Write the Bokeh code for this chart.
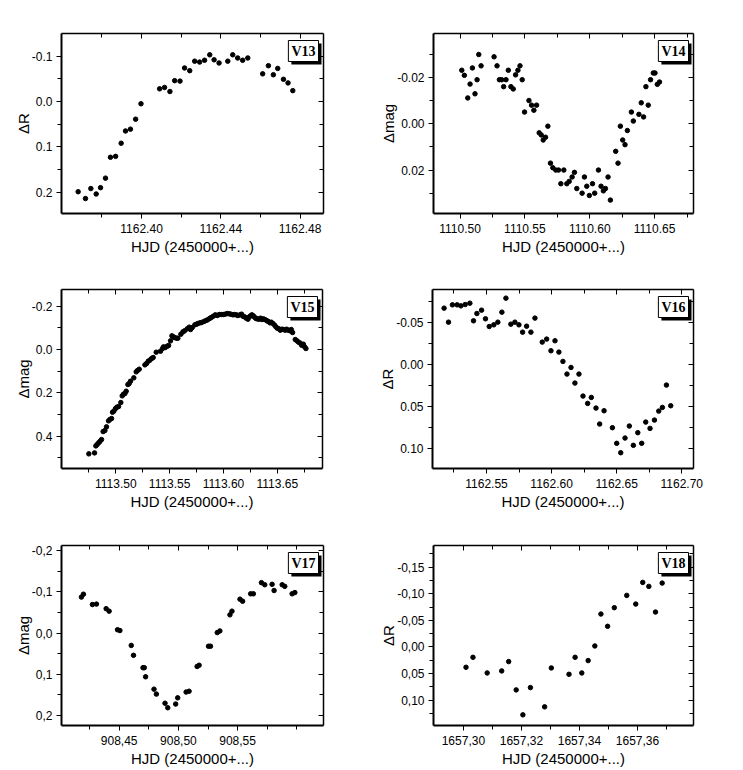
from bokeh.plotting import figure
from bokeh.layouts import column, row
from bokeh.models import Range1d, FixedTicker, CustomJSTickFormatter, LinearAxis, Label
from bokeh.embed import file_html
from bokeh.resources import INLINE

X_TITLE = "HJD (2450000+...)"

# ---------------- V13 ----------------
v13_hjd = [1162.3680, 1162.3717, 1162.3744, 1162.3771, 1162.3793, 1162.3818, 1162.3843, 1162.3869,
           1162.3897, 1162.3919, 1162.3944, 1162.3970, 1162.3997, 1162.4091, 1162.4116, 1162.4143,
           1162.4167, 1162.4194, 1162.4217, 1162.4243, 1162.4268, 1162.4293, 1162.4318, 1162.4344,
           1162.4366, 1162.4391, 1162.4435, 1162.4460, 1162.4485, 1162.4510, 1162.4536, 1162.4611,
           1162.4640, 1162.4665, 1162.4687, 1162.4716, 1162.4739, 1162.4763]
v13_dR = [0.199, 0.214, 0.192, 0.204, 0.190, 0.169, 0.123, 0.121, 0.092, 0.065, 0.061, 0.039, 0.005,
          -0.028, -0.031, -0.022, -0.046, -0.045, -0.074, -0.068, -0.089, -0.087, -0.091, -0.103,
          -0.092, -0.085, -0.089, -0.103, -0.096, -0.091, -0.096, -0.061, -0.079, -0.059, -0.073,
          -0.049, -0.041, -0.024]
v13_xmajor = [1162.40, 1162.44, 1162.48]
v13_xminor = [1162.38, 1162.42, 1162.46]
v13_ymajor = [-0.1, 0.0, 0.1, 0.2]
v13_yminor = [-0.05, 0.05, 0.15]

# ---------------- V14 ----------------
v14_hjd = [1110.5013, 1110.5033, 1110.5059, 1110.5077, 1110.5095, 1110.5115, 1110.5131, 1110.5144,
           1110.5162, 1110.5262, 1110.5285, 1110.5303, 1110.5321, 1110.5336, 1110.5354, 1110.5372,
           1110.5392, 1110.5410, 1110.5428, 1110.5446, 1110.5462, 1110.5479, 1110.5497, 1110.5531,
           1110.5551, 1110.5569, 1110.5590, 1110.5610, 1110.5626, 1110.5641, 1110.5659, 1110.5677,
           1110.5697, 1110.5715, 1110.5738, 1110.5759, 1110.5777, 1110.5800, 1110.5823, 1110.5841,
           1110.5864, 1110.5882, 1110.5900, 1110.5941, 1110.5959, 1110.5977, 1110.5997, 1110.6021,
           1110.6038, 1110.6067, 1110.6087, 1110.6105, 1110.6121, 1110.6141, 1110.6159, 1110.6200,
           1110.6218, 1110.6236, 1110.6254, 1110.6272, 1110.6290, 1110.6321, 1110.6336, 1110.6379,
           1110.6397, 1110.6415, 1110.6433, 1110.6451, 1110.6469, 1110.6490, 1110.6503, 1110.6521,
           1110.6538]
v14_dmag = [-0.0232, -0.0210, -0.0112, -0.0172, -0.0242, -0.0130, -0.0191, -0.0300, -0.0251, -0.0290,
            -0.0251, -0.0191, -0.0191, -0.0161, -0.0191, -0.0232, -0.0161, -0.0151, -0.0212, -0.0232,
            -0.0251, -0.0191, -0.0051, -0.0101, -0.0081, -0.0059, -0.0081, 0.0039, 0.0048, 0.0070,
            0.0058, 0.0010, 0.0170, 0.0190, 0.0200, 0.0200, 0.0259, 0.0200, 0.0259, 0.0249,
            0.0230, 0.0210, 0.0280, 0.0300, 0.0230, 0.0270, 0.0310, 0.0259, 0.0300, 0.0200,
            0.0270, 0.0290, 0.0280, 0.0230, 0.0330, 0.0119, 0.0170, 0.0010, 0.0070, 0.0090,
            0.0029, -0.0051, -0.0012, -0.0041, -0.0091, -0.0030, -0.0161, -0.0081, -0.0191, -0.0220,
            -0.0220, -0.0171, -0.0181]
v14_xmajor = [1110.50, 1110.55, 1110.60, 1110.65]
v14_xminor = [1110.525, 1110.575, 1110.625, 1110.675]
v14_ymajor = [-0.02, 0.00, 0.02]
v14_yminor = [-0.03, -0.01, 0.01, 0.03]

# ---------------- V15 ----------------
v15_hjd = [1113.4749, 1113.4802, 1113.4814, 1113.4826, 1113.4839, 1113.4851, 1113.4867, 1113.4882,
           1113.4898, 1113.4913, 1113.4932, 1113.4944, 1113.4960, 1113.4969, 1113.4981, 1113.4997,
           1113.5009, 1113.5025, 1113.5046, 1113.5059, 1113.5071, 1113.5084, 1113.5096, 1113.5112,
           1113.5124, 1113.5136, 1113.5167, 1113.5189, 1113.5201, 1113.5217, 1113.5270, 1113.5285,
           1113.5301, 1113.5316, 1113.5332, 1113.5347, 1113.5375, 1113.5415, 1113.5434, 1113.5443,
           1113.5459, 1113.5477, 1113.5490, 1113.5508, 1113.5521, 1113.5533, 1113.5545, 1113.5564,
           1113.5576, 1113.5604, 1113.5623, 1113.5638, 1113.5663, 1113.5682, 1113.5694, 1113.5710,
           1113.5734, 1113.5750, 1113.5762, 1113.5781, 1113.5796, 1113.5818, 1113.5837, 1113.5852,
           1113.5871, 1113.5886, 1113.5905, 1113.5924, 1113.5942, 1113.5961, 1113.5979, 1113.5998,
           1113.6016, 1113.6035, 1113.6054, 1113.6069, 1113.6088, 1113.6103, 1113.6119, 1113.6134,
           1113.6153, 1113.6168, 1113.6181, 1113.6196, 1113.6212, 1113.6227, 1113.6240, 1113.6252,
           1113.6264, 1113.6277, 1113.6289, 1113.6302, 1113.6314, 1113.6329, 1113.6345, 1113.6357,
           1113.6370, 1113.6385, 1113.6401, 1113.6416, 1113.6432, 1113.6444, 1113.6460, 1113.6475,
           1113.6487, 1113.6500, 1113.6515, 1113.6528, 1113.6543, 1113.6559, 1113.6574, 1113.6587,
           1113.6602, 1113.6618, 1113.6630, 1113.6642, 1113.6667, 1113.6683, 1113.6698, 1113.6714,
           1113.6726, 1113.6742, 1113.6754, 1113.6766]
v15_dmag = [0.4815, 0.4769, 0.4446, 0.4385, 0.4308, 0.4246, 0.4154, 0.3785,
            0.3738, 0.3569, 0.3292, 0.3231, 0.3185, 0.2892, 0.2846, 0.2723,
            0.2662, 0.2631, 0.2446, 0.2138, 0.2062, 0.2031, 0.1923, 0.1615,
            0.1569, 0.1462, 0.1308, 0.1031, 0.0969, 0.0908, 0.0708, 0.0646,
            0.0538, 0.0492, 0.0415, 0.0369, 0.0123, 0.0077, -0.0046, -0.0123,
            -0.0092, -0.0154, -0.0185, -0.0400, -0.0631, -0.0585, -0.0554, -0.0523,
            -0.0523, -0.0708, -0.0815, -0.0862, -0.0954, -0.1031, -0.0923, -0.1015,
            -0.1138, -0.1169, -0.1200, -0.1231, -0.1246, -0.1292, -0.1338, -0.1369,
            -0.1431, -0.1477, -0.1538, -0.1600, -0.1569, -0.1615, -0.1615, -0.1615,
            -0.1631, -0.1662, -0.1646, -0.1631, -0.1600, -0.1615, -0.1600, -0.1569,
            -0.1600, -0.1631, -0.1538, -0.1508, -0.1446, -0.1400, -0.1508, -0.1554,
            -0.1600, -0.1554, -0.1492, -0.1431, -0.1415, -0.1400, -0.1446, -0.1385,
            -0.1415, -0.1385, -0.1338, -0.1292, -0.1231, -0.1262, -0.1200, -0.1123,
            -0.1046, -0.0985, -0.0954, -0.0892, -0.0938, -0.0923, -0.0892, -0.0938,
            -0.0892, -0.0862, -0.0923, -0.0785, -0.0462, -0.0400, -0.0338, -0.0292,
            -0.0200, -0.0246, -0.0123, -0.0046]
v15_xmajor = [1113.50, 1113.55, 1113.60, 1113.65]
v15_xminor = [1113.475, 1113.525, 1113.575, 1113.625, 1113.675]
v15_ymajor = [-0.2, 0.0, 0.2, 0.4]
v15_yminor = [-0.1, 0.1, 0.3, 0.5]

# ---------------- V16 ----------------
v16_hjd = [1162.5174, 1162.5208, 1162.5238, 1162.5274, 1162.5303, 1162.5336, 1162.5372, 1162.5400,
           1162.5426, 1162.5462, 1162.5492, 1162.5521, 1162.5556, 1162.5587, 1162.5618, 1162.5649,
           1162.5687, 1162.5718, 1162.5749, 1162.5777, 1162.5808, 1162.5841, 1162.5872, 1162.5928,
           1162.5962, 1162.5995, 1162.6026, 1162.6056, 1162.6087, 1162.6118, 1162.6149, 1162.6179,
           1162.6210, 1162.6241, 1162.6277, 1162.6305, 1162.6341, 1162.6369, 1162.6403, 1162.6467,
           1162.6500, 1162.6531, 1162.6564, 1162.6597, 1162.6628, 1162.6662, 1162.6692, 1162.6723,
           1162.6756, 1162.6790, 1162.6823, 1162.6851, 1162.6882, 1162.6915]
v16_dR = [-0.0671, -0.0504, -0.0710, -0.0710, -0.0698, -0.0714, -0.0730, -0.0520, -0.0607, -0.0647,
          -0.0544, -0.0452, -0.0472, -0.0504, -0.0623, -0.0790, -0.0480, -0.0504, -0.0472, -0.0385,
          -0.0456, -0.0385, -0.0552, -0.0266, -0.0302, -0.0163, -0.0282, -0.0147, -0.0036, 0.0115,
          0.0036, 0.0222, 0.0115, 0.0377, 0.0464, 0.0393, 0.0520, 0.0710, 0.0552, 0.0754,
          0.0940, 0.1052, 0.0877, 0.0734, 0.0964, 0.0813, 0.0940, 0.0687, 0.0762, 0.0663,
          0.0556, 0.0512, 0.0246, 0.0492]
v16_xmajor = [1162.55, 1162.60, 1162.65, 1162.70]
v16_xminor = [1162.525, 1162.575, 1162.625, 1162.675]
v16_ymajor = [-0.05, 0.00, 0.05, 0.10]
v16_yminor = [-0.075, -0.025, 0.025, 0.075]

# ---------------- V17 ----------------
v17_hjd = [908.4181, 908.4198, 908.4274, 908.4308, 908.4390, 908.4415, 908.4486, 908.4506,
           908.4602, 908.4621, 908.4701, 908.4712, 908.4723, 908.4794, 908.4814, 908.4887,
           908.4910, 908.4977, 908.4994, 908.5065, 908.5090, 908.5158, 908.5175, 908.5254,
           908.5271, 908.5328, 908.5350, 908.5435, 908.5452, 908.5520, 908.5542, 908.5610,
           908.5633, 908.5701, 908.5729, 908.5791, 908.5808, 908.5876, 908.5898, 908.5960,
           908.5983]
v17_dmag = [-0.087, -0.094, -0.069, -0.070, -0.059, -0.053, -0.008, -0.006,
            0.030, 0.054, 0.084, 0.084, 0.106, 0.136, 0.148, 0.170,
            0.181, 0.172, 0.157, 0.143, 0.141, 0.081, 0.078, 0.032,
            0.032, -0.001, -0.005, -0.044, -0.053, -0.082, -0.077, -0.095,
            -0.095, -0.122, -0.117, -0.118, -0.103, -0.117, -0.113, -0.095,
            -0.098]
v17_xmajor = [908.45, 908.50, 908.55]
v17_xminor = [908.425, 908.475, 908.525, 908.575, 908.60]
v17_ymajor = [-0.2, -0.1, 0.0, 0.1, 0.2]
v17_yminor = [-0.15, -0.05, 0.05, 0.15]

# ---------------- V18 ----------------
v18_hjd = [1657.3009, 1657.3033, 1657.3082, 1657.3132, 1657.3156, 1657.3182, 1657.3205, 1657.3231,
           1657.3280, 1657.3303, 1657.3364, 1657.3385, 1657.3408, 1657.3430, 1657.3453, 1657.3474,
           1657.3497, 1657.3520, 1657.3563, 1657.3594, 1657.3618, 1657.3639, 1657.3662, 1657.3685]
v18_dR = [0.0381, 0.0194, 0.0488, 0.0450, 0.0275, 0.0806, 0.1275, 0.0763,
          0.1125, 0.0394, 0.0513, 0.0194, 0.0488, 0.0256, -0.0019, -0.0619,
          -0.0388, -0.0738, -0.0969, -0.0806, -0.1213, -0.1138, -0.0656, -0.1200]
v18_xmajor = [1657.30, 1657.32, 1657.34, 1657.36]
v18_xminor = [1657.31, 1657.33, 1657.35, 1657.37]
v18_ymajor = [-0.15, -0.10, -0.05, 0.00, 0.05, 0.10]
v18_yminor = [-0.175, -0.125, -0.075, -0.025, 0.025, 0.075, 0.125]

SANS = "Liberation Sans"
SERIF = "Liberation Serif"


def fmt(dec, comma):
    conv = "s.replace('.', ',')" if comma else "s"
    return CustomJSTickFormatter(code=(
        "var s = tick.toFixed(%d); if (s.charAt(0) == '-' && Number(s) == 0) { s = s.substring(1); } return %s;"
        % (dec, conv)))


def make_panel(name, xs, ys, xr, yr, xt_major, xt_minor, yt_major, yt_minor, xdec, ydec, comma,
               ylabel, width, height, bl, br, bt, bb):
    p = figure(width=width, height=height,
               x_range=Range1d(xr[0], xr[1]), y_range=Range1d(yr[0], yr[1]),
               output_backend="svg", toolbar_location=None,
               min_border_left=bl, min_border_right=br, min_border_top=bt, min_border_bottom=bb)
    p.xgrid.visible = False
    p.ygrid.visible = False
    p.outline_line_color = None
    p.background_fill_color = "white"
    p.border_fill_color = "white"

    xt = FixedTicker(ticks=xt_major, minor_ticks=xt_minor)
    yt = FixedTicker(ticks=yt_major, minor_ticks=yt_minor)
    xa = p.xaxis[0]
    ya = p.yaxis[0]
    xa.ticker = xt
    ya.ticker = yt
    xa.formatter = fmt(xdec, comma)
    ya.formatter = fmt(ydec, comma)
    for a in (xa, ya):
        a.axis_line_width = 2
        a.axis_line_color = "black"
        a.major_tick_in = 0
        a.major_tick_out = 5
        a.minor_tick_in = 0
        a.minor_tick_out = 4
        a.major_tick_line_width = 1
        a.minor_tick_line_width = 1
        a.major_label_text_font = SANS
        a.major_label_text_font_size = "12px"
        a.major_label_text_color = "black"
        a.axis_label_text_font = SANS
        a.axis_label_text_font_size = "15px"
        a.axis_label_text_font_style = "normal"
        a.axis_label_text_color = "black"
    xa.axis_label = X_TITLE
    ya.axis_label = ylabel
    xa.major_label_standoff = 5
    xa.axis_label_standoff = 2
    ya.major_label_standoff = 4
    ya.axis_label_standoff = -3

    for t, loc in ((xt, "above"), (yt, "right")):
        ax = LinearAxis(ticker=t, formatter=CustomJSTickFormatter(code="return '';"),
                        major_tick_in=5, major_tick_out=0, minor_tick_in=4, minor_tick_out=0,
                        major_label_standoff=0, axis_line_width=1.5, axis_line_color="black")
        p.add_layout(ax, loc)

    p.scatter(xs, ys, size=4.5, marker="circle", color="black")

    shadow = Label(x=xr[1], y=yr[1], x_offset=-2, y_offset=-10, text=name,
                   text_align="right", text_baseline="top",
                   text_font=SERIF, text_font_size="14px", text_font_style="bold",
                   text_color="black", background_fill_color="black", padding=3)
    box = Label(x=xr[1], y=yr[1], x_offset=-5, y_offset=-7, text=name,
                text_align="right", text_baseline="top",
                text_font=SERIF, text_font_size="14px", text_font_style="bold",
                text_color="black", background_fill_color="white",
                border_line_color="black", border_line_width=1, padding=3)
    p.add_layout(shadow)
    p.add_layout(box)
    return p


p13 = make_panel("V13", v13_hjd, v13_dR, (1162.3596, 1162.4918), (0.247, -0.15),
                 v13_xmajor, v13_xminor, v13_ymajor, v13_yminor, 2, 1, False, "\u0394R",
                 375, 270, 61, 52, 33, 57)
p14 = make_panel("V14", v14_hjd, v14_dmag, (1110.4795, 1110.680), (0.0388, -0.0391),
                 v14_xmajor, v14_xminor, v14_ymajor, v14_yminor, 2, 2, False, "\u0394mag",
                 335, 270, 58, 17, 33, 57)
p15 = make_panel("V15", v15_hjd, v15_dmag, (1113.4495, 1113.692), (0.549, -0.277),
                 v15_xmajor, v15_xminor, v15_ymajor, v15_yminor, 2, 1, False, "\u0394mag",
                 375, 255, 61, 53, 19, 57)
p16 = make_panel("V16", v16_hjd, v16_dR, (1162.5085, 1162.709), (0.124, -0.0893),
                 v16_xmajor, v16_xminor, v16_ymajor, v16_yminor, 2, 2, False, "\u0394R",
                 335, 255, 57, 17, 19, 57)
p17 = make_panel("V17", v17_hjd, v17_dmag, (908.4013, 908.6225), (0.224, -0.212),
                 v17_xmajor, v17_xminor, v17_ymajor, v17_yminor, 2, 1, True, "\u0394mag",
                 375, 245, 61, 52, 20, 45)
p18 = make_panel("V18", v18_hjd, v18_dR, (1657.2897, 1657.3793), (0.1475, -0.1906),
                 v18_xmajor, v18_xminor, v18_ymajor, v18_yminor, 2, 2, True, "\u0394R",
                 335, 245, 58, 17, 20, 45)

layout = column(row(p13, p14), row(p15, p16), row(p17, p18))

with open("out.html", "w") as f:
    f.write(file_html(layout, INLINE))
